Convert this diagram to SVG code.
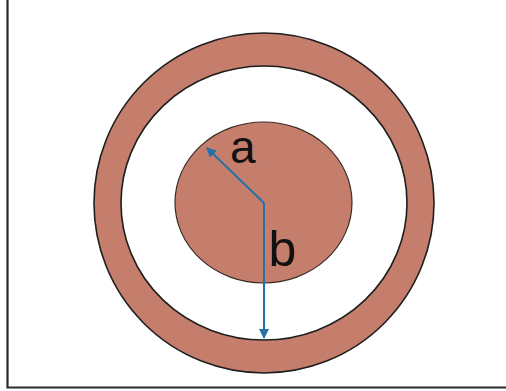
<svg xmlns="http://www.w3.org/2000/svg" width="506" height="391" viewBox="0 0 506 391">
<defs>
<style>
.ring{fill:#c47e6b;stroke:#1e1e1e;stroke-width:1.6}
.gap{fill:#ffffff;stroke:#1e1e1e;stroke-width:1.6}
.core{fill:#c47e6b;stroke:#3a2a25;stroke-width:1.2}
.conn{stroke:#2471a8;stroke-width:2;fill:none;marker-end:url(#ah)}
.lbl{font-family:"Liberation Sans",Arial,sans-serif;fill:#111}
</style>
<marker id="ah" viewBox="0 0 10 10" refX="9" refY="5" markerWidth="5" markerHeight="5" orient="auto" markerUnits="strokeWidth">
<path d="M0,0 L10,5 L0,10 z" fill="#2471a8"/>
</marker>
</defs>
<rect x="0" y="0" width="506" height="391" fill="#ffffff"/>
<path d="M7.5,0 V387.5 H506" fill="none" stroke="#2a2a2a" stroke-width="2.2"/>
<g id="outer-conductor">
<ellipse class="ring" cx="264" cy="203" rx="170" ry="170"/>
<ellipse class="gap" cx="264" cy="203" rx="143" ry="137"/>
</g>
<g id="inner-conductor">
<ellipse class="core" cx="263.5" cy="202.5" rx="88.5" ry="80.5"/>
</g>
<g id="connectors">
<line class="conn" x1="264" y1="203" x2="207" y2="148"/>
<line class="conn" x1="264" y1="203" x2="264" y2="338"/>
</g>
<g id="label-a"><text class="lbl" x="230" y="163" font-size="46">a</text></g>
<g id="label-b"><text class="lbl" x="268.5" y="266" font-size="50">b</text></g>
</svg>
